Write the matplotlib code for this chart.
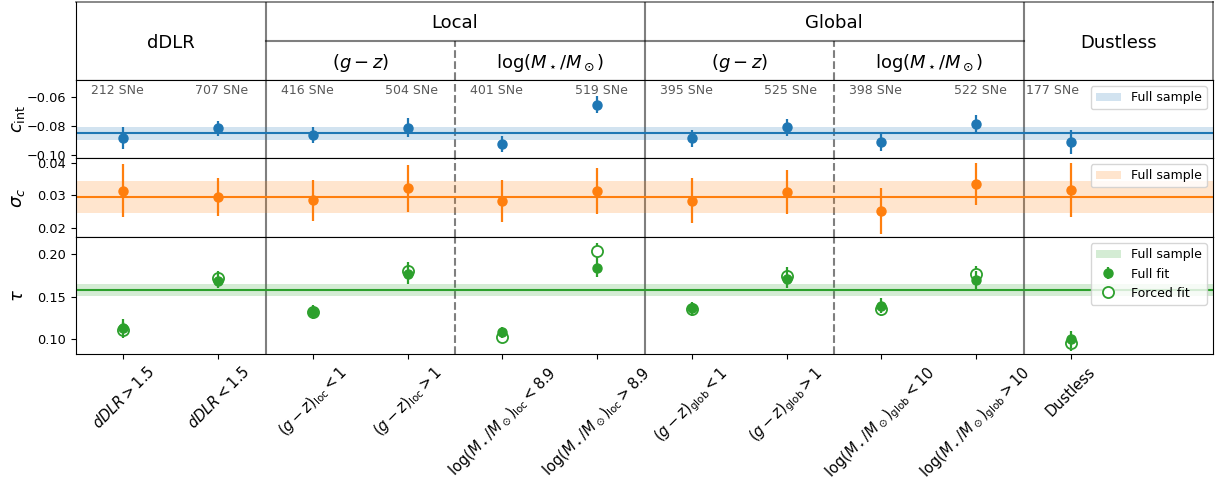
import matplotlib
matplotlib.use("Agg")
import matplotlib.pyplot as plt
from matplotlib.patches import Patch
from matplotlib.lines import Line2D

# ---------------- data ----------------
labels = [r'$dDLR > 1.5$', r'$dDLR < 1.5$',
          r'$(g-z)_\mathrm{loc} < 1$', r'$(g-z)_\mathrm{loc} > 1$',
          r'$\log(M_\star/M_\odot)_\mathrm{loc} < 8.9$', r'$\log(M_\star/M_\odot)_\mathrm{loc} > 8.9$',
          r'$(g-z)_\mathrm{glob} < 1$', r'$(g-z)_\mathrm{glob} > 1$',
          r'$\log(M_\star/M_\odot)_\mathrm{glob} < 10$', r'$\log(M_\star/M_\odot)_\mathrm{glob} > 10$',
          'Dustless']
n_sne = [212, 707, 416, 504, 401, 519, 395, 525, 398, 522, 177]

c_int = [-0.0884, -0.0816, -0.0862, -0.0812, -0.0923, -0.0654, -0.0884, -0.0809, -0.0908, -0.0784, -0.0908]
c_int_err = [0.0075, 0.0050, 0.0057, 0.0065, 0.0058, 0.0058, 0.0058, 0.0060, 0.0060, 0.0062, 0.0082]
c_int_full = -0.0850
c_int_full_err = 0.0043

sigma_c = [0.0315, 0.0295, 0.0285, 0.0322, 0.0284, 0.0313, 0.0284, 0.0310, 0.0252, 0.0336, 0.0316]
sigma_c_err = [0.0081, 0.0057, 0.0062, 0.0072, 0.0064, 0.0070, 0.0068, 0.0067, 0.0070, 0.0064, 0.0082]
sigma_c_full = 0.0295
sigma_c_full_err = 0.0049

tau_fit = [0.1133, 0.1686, 0.1321, 0.1761, 0.1079, 0.1832, 0.1361, 0.1706, 0.1392, 0.1694, 0.0996]
tau_fit_err = [0.0100, 0.0090, 0.0080, 0.0110, 0.0066, 0.0099, 0.0080, 0.0110, 0.0086, 0.0110, 0.0100]
tau_forced = [0.1106, 0.1721, 0.1314, 0.1804, 0.1020, 0.2033, 0.1350, 0.1745, 0.1353, 0.1761, 0.0949]
tau_forced_err = [0.0090, 0.0080, 0.0070, 0.0100, 0.0066, 0.0099, 0.0075, 0.0100, 0.0080, 0.0100, 0.0090]
tau_full = 0.1575
tau_full_err = 0.0074

header_top = [("Local", 3.5), ("Global", 7.5)]
header_mid = [("dDLR", 0.5), ("Dustless", 10.5)]
header_sub = [(r"$(g-z)$", 2.5), (r"$\log(M_\star/M_\odot)$", 4.5),
              (r"$(g-z)$", 6.5), (r"$\log(M_\star/M_\odot)$", 8.5)]

# ---------------- figure ----------------
W, H = 1218, 488
fig = plt.figure(figsize=(W / 100, H / 100), dpi=100)

def rect(top, bottom, left=76, right=1213):
    return [left / W, (H - bottom) / H, (right - left) / W, (bottom - top) / H]

ax_h = fig.add_axes(rect(2, 80))
ax1 = fig.add_axes(rect(80, 158))
ax2 = fig.add_axes(rect(158, 237), sharex=ax1)
ax3 = fig.add_axes(rect(237, 354), sharex=ax1)

x = list(range(len(labels)))
xlim = (-0.5, 11.5)
solid_div = [1.5, 5.5, 9.5]
dash_div = [3.5, 7.5]
blue, orange, green = "#1f77b4", "#ff7f0e", "#2ca02c"
sep_kw = dict(color="black", alpha=0.5, lw=1.5)

# header
ax_h.set_xlim(*xlim)
ax_h.set_ylim(0, 1)
ax_h.set_xticks([])
ax_h.set_yticks([])
for side in ("top", "right"):
    ax_h.spines[side].set_color((0, 0, 0, 0.5))
    ax_h.spines[side].set_linewidth(1.3)
for xv in solid_div:
    ax_h.axvline(xv, **sep_kw)
for xv in dash_div:
    ax_h.plot([xv, xv], [0, 0.5], ls="--", **sep_kw)
ax_h.plot([1.5, 9.5], [0.5, 0.5], **sep_kw)
for t, xv in header_top:
    ax_h.text(xv, 0.73, t, ha="center", va="center", fontsize=13)
for t, xv in header_mid:
    ax_h.text(xv, 0.47, t, ha="center", va="center", fontsize=13)
for t, xv in header_sub:
    ax_h.text(xv, 0.22, t, ha="center", va="center", fontsize=13)

def common(ax):
    for xv in solid_div:
        ax.axvline(xv, zorder=1, **sep_kw)
    for xv in dash_div:
        ax.axvline(xv, ls="--", zorder=1, **sep_kw)
    ax.tick_params(labelsize=9.3)

# c_int
common(ax1)
ax1.axhspan(c_int_full - c_int_full_err, c_int_full + c_int_full_err, color=blue, alpha=0.2,
            lw=0, label="Full sample")
ax1.axhline(c_int_full, color=blue, lw=1.5)
ax1.errorbar(x, c_int, yerr=c_int_err, fmt="o", color=blue, ms=6.5, elinewidth=1.6, zorder=3)
ax1.set_ylim(-0.1019, -0.0485)
ax1.set_yticks([-0.10, -0.08, -0.06])
ax1.set_ylabel(r"$c_\mathrm{int}$", fontsize=13)
ax1.legend(loc="upper right", fontsize=9)
for i, n in enumerate(n_sne):
    if i == len(n_sne) - 1:
        xp, ha = x[i] - 0.47, "left"
    elif i % 2 == 0:
        xp, ha = x[i] - 0.34, "left"
    else:
        xp, ha = x[i] + 0.32, "right"
    ax1.text(xp, 0.863, f"{n} SNe", ha=ha, va="center", fontsize=9,
             color="0.35", transform=ax1.get_xaxis_transform())

# sigma_c
common(ax2)
ax2.axhspan(sigma_c_full - sigma_c_full_err, sigma_c_full + sigma_c_full_err, color=orange,
            alpha=0.2, lw=0, label="Full sample")
ax2.axhline(sigma_c_full, color=orange, lw=1.5)
ax2.errorbar(x, sigma_c, yerr=sigma_c_err, fmt="o", color=orange, ms=6.5, elinewidth=1.6, zorder=3)
ax2.set_ylim(0.01735, 0.0414)
ax2.set_yticks([0.02, 0.03, 0.04])
ax2.set_ylabel(r"$\sigma_c$", fontsize=13)
ax2.legend(loc="upper right", fontsize=9)

# tau
common(ax3)
ax3.axhspan(tau_full - tau_full_err, tau_full + tau_full_err, color=green, alpha=0.2, lw=0)
ax3.axhline(tau_full, color=green, lw=1.5)
ax3.errorbar(x, tau_forced, yerr=tau_forced_err, fmt="none", ecolor=green, elinewidth=1.6, zorder=3)
ax3.plot(x, tau_forced, "o", mfc="white", mec=green, mew=1.3, ms=8, ls="none", zorder=4)
ax3.errorbar(x, tau_fit, yerr=tau_fit_err, fmt="o", color=green, ms=6.5, elinewidth=1.6, zorder=5)
ax3.set_ylim(0.0824, 0.22)
ax3.set_yticks([0.10, 0.15, 0.20])
ax3.set_ylabel(r"$\tau$", fontsize=13)
fit_handle = ax3.errorbar([], [], yerr=[], fmt="o", color=green, ms=6.5, elinewidth=1.6)
handles = [Patch(facecolor=green, alpha=0.2),
           fit_handle,
           Line2D([], [], marker="o", mfc="white", mec=green, mew=1.3, ms=8, ls="none")]
ax3.legend(handles=handles, labels=["Full sample", "Full fit", "Forced fit"],
           loc="upper right", fontsize=9)

ax1.set_xlim(*xlim)
ax3.set_xticks(x)
ax3.set_xticklabels(labels, rotation=45, ha="center", fontsize=10.5)
ax1.tick_params(axis="x", bottom=False, labelbottom=False)
ax2.tick_params(axis="x", bottom=False, labelbottom=False)

for ax in (ax1, ax2, ax3):
    ax.yaxis.set_label_coords(-0.043, 0.5)

fig.savefig("out.png", dpi=100)
